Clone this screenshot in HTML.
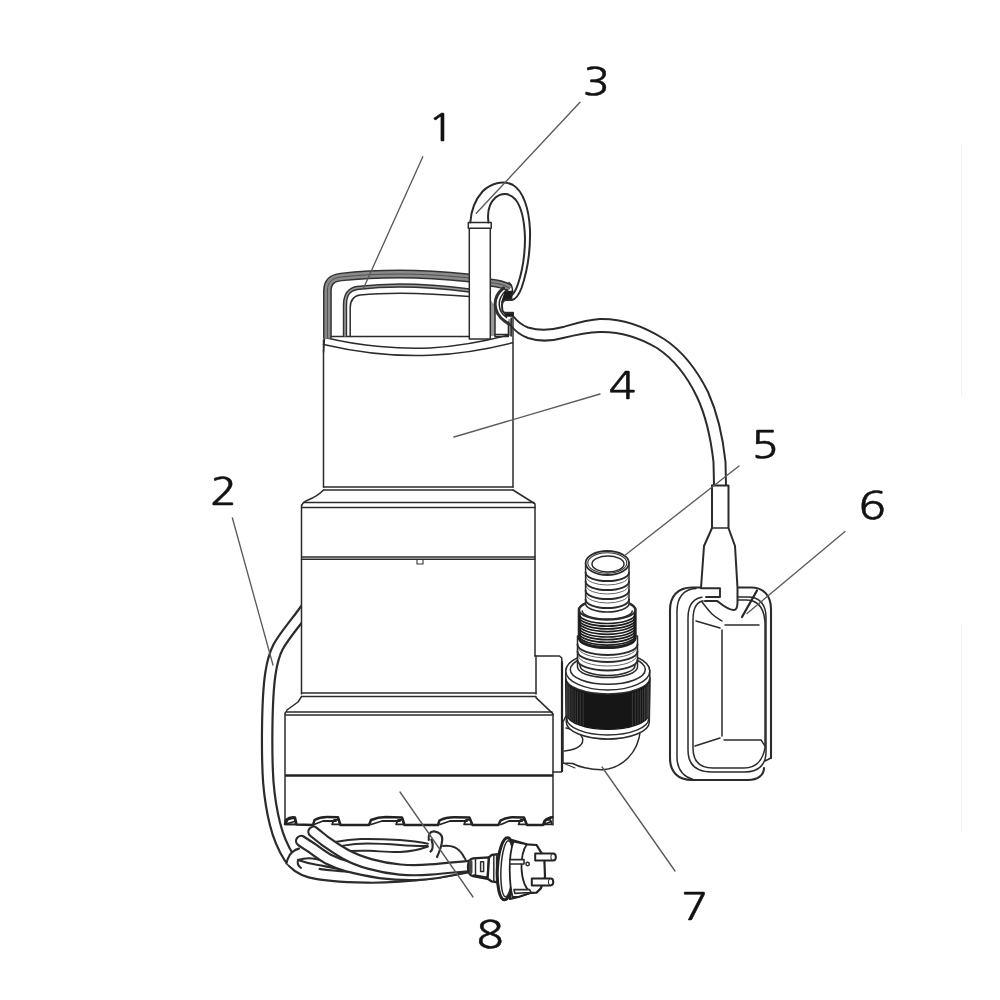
<!DOCTYPE html>
<html lang="en">
<head>
<meta charset="utf-8">
<title>Submersible pump diagram</title>
<style>
html,body{margin:0;padding:0;background:#fff;}
body{width:1000px;height:1000px;overflow:hidden;}
svg{display:block;}
.m{fill:none;stroke:#2b2b2b;stroke-width:1.5;stroke-linecap:round;stroke-linejoin:round;}
.c{fill:none;stroke:#2b2b2b;stroke-width:2;stroke-linecap:round;stroke-linejoin:round;}
.t{fill:none;stroke:#333;stroke-width:1.1;stroke-linecap:round;stroke-linejoin:round;}
.k{fill:none;stroke:#222;stroke-width:2.2;stroke-linecap:round;stroke-linejoin:round;}
.w{fill:#fff;stroke:#2b2b2b;stroke-width:1.5;stroke-linecap:round;stroke-linejoin:round;}
.wt{fill:#fff;stroke:#333;stroke-width:1.1;stroke-linecap:round;stroke-linejoin:round;}
.l{fill:none;stroke:#5a5a5a;stroke-width:1.35;stroke-linecap:round;}
.n{font-family:"NanumGothic","Liberation Sans",sans-serif;font-weight:400;font-size:37.3px;fill:#111;stroke:#111;stroke-width:0.45;}
</style>
</head>
<body>
<svg width="1000" height="1000" viewBox="0 0 1000 1000">
<rect width="1000" height="1000" fill="#fff"/>

<!-- faint page-edge marks -->
<g id="edge">
<line x1="961.5" y1="144" x2="961.5" y2="396" stroke="#f1f1f1" stroke-width="1"/>
<line x1="961.5" y1="624" x2="961.5" y2="832" stroke="#f1f1f1" stroke-width="1"/>
</g>

<!-- SECTION: power cable (behind body) -->
<g id="powercable">
<!-- upper coil lines (behind) -->
<path class="c" style="stroke-width:1.9" d="M335,842 C345,840 353,839.2 361,839 C375,838.8 388,839.3 400,840 C412,840.8 420,842 428,843.8"/>
<path class="c" style="stroke-width:1.9" d="M343,845.6 C352,844.2 360,843.6 367.5,843.5 C380,843.5 390,844.2 400,845 C412,846 420,846 427.5,846"/>
<path class="c" style="stroke-width:1.9" d="M349,851 C358,850.6 364,850.6 370,850.8 C382,851.4 392,852.3 400,852 C410,851.5 420,849.5 428,846.5"/>
<!-- S1: cable from body down the left side, around the bottom, to plug -->
<path d="M312,600 L302,613.8 C296,622 284,636 278,647 C274,655 272,663 270.5,673 C268.5,686 267.5,700 267.2,730 C267,750 267.3,768 268.3,782 C269.5,797 272,812 275,824 C278,836 283,848 289,857.5 C294,865 301,870 310,872.3 C322,875.5 345,877 367,877.5 C385,877.8 410,876 430,873.5 C445,871.5 458,869 471,866.5" fill="none" stroke="#2b2b2b" stroke-width="12.6" stroke-linecap="butt" stroke-linejoin="round"/>
<path d="M312,600 L302,613.8 C296,622 284,636 278,647 C274,655 272,663 270.5,673 C268.5,686 267.5,700 267.2,730 C267,750 267.3,768 268.3,782 C269.5,797 272,812 275,824 C278,836 283,848 289,857.5 C294,865 301,870 310,872.3 C322,875.5 345,877 367,877.5 C385,877.8 410,876 430,873.5 C445,871.5 458,869 471,866.5" fill="none" stroke="#fff" stroke-width="8.2" stroke-linecap="butt" stroke-linejoin="round"/>
<!-- C-shaped loop end covering inner edge -->
<path d="M299,848.6 C294.5,849.8 291.5,852.3 289.6,855.2 C287.6,858.5 286.7,861 286.5,863.5 L288.6,864.6 L291.5,866.6 L297,869.6 L305,871.8 L318,871.5 L320,864 L306,856 Z" fill="#fff" stroke="none"/>
<path class="c" style="stroke-width:2.2" d="M299,848.6 C294.5,849.8 291.5,852.3 289.6,855.2 C287.6,858.5 286.7,861 286.5,863.5"/>
<!-- wedge -->
<path class="c" style="stroke-width:2.2" d="M298,860 C304,858 310,857.8 316,859 C326,861.5 336,865 350,869.8"/>
<path class="c" style="stroke-width:2.2" d="M298,860 C305,862.5 312,864 318,865 C326,866.5 332,867.5 342,869.5"/>
<path class="c" d="M298,860 Q296.5,864.5 301,868"/>
<!-- S2 -->
<path d="M301.2,841 C305,843.5 309,846 312,848 C318,852.5 323,856 328,859 C334,862 341,864.8 348,866.5 C358,869.3 370,871.5 380,873 C392,874.6 404,875.3 416,875 C435,874.3 452,870.5 468,866.5" fill="none" stroke="#2b2b2b" stroke-width="12.4" stroke-linecap="round" stroke-linejoin="round"/>
<path d="M301.2,841 C305,843.5 309,846 312,848 C318,852.5 323,856 328,859 C334,862 341,864.8 348,866.5 C358,869.3 370,871.5 380,873 C392,874.6 404,875.3 416,875 C435,874.3 452,870.5 468,866.5" fill="none" stroke="#fff" stroke-width="8.0" stroke-linecap="round" stroke-linejoin="round"/>
<!-- S3 -->
<path d="M313.5,831.8 C318,835.5 322,838.5 325,841 C332,846 338,850 345,854 C353,858.5 361,861.5 370,864 C380,866.8 390,868.6 400,869.6 C410,870.4 420,870.3 430,869.5 C443,868.5 456,867.2 469,866" fill="none" stroke="#2b2b2b" stroke-width="12.4" stroke-linecap="round" stroke-linejoin="round"/>
<path d="M313.5,831.8 C318,835.5 322,838.5 325,841 C332,846 338,850 345,854 C353,858.5 361,861.5 370,864 C380,866.8 390,868.6 400,869.6 C410,870.4 420,870.3 430,869.5 C443,868.5 456,867.2 469,866" fill="none" stroke="#fff" stroke-width="8.0" stroke-linecap="round" stroke-linejoin="round"/>
</g>

<!-- SECTION: pump body -->
<g id="body">
<path d="M323.5,340 L323.5,490 L302,505 L301.5,696.6 L285,713 L285,824 L553,824 L553,714 L536,697.6 L535,504 L513,490 L513,316 L508,324 L508,337 Z" fill="#fff" stroke="none"/>
<!-- upper motor housing -->
<path class="m" d="M323.5,340 L323.5,487"/>
<path class="m" d="M513,316 L513,487"/>
<path class="m" d="M323.5,487 H513 M323.5,490 H513"/>
<path class="m" d="M323.5,490 Q318,496 308,500 Q303,502 302,505"/>
<path class="m" d="M513,490 L534.5,503.5"/>
<path class="m" d="M304,502.4 H534 M302,507.4 H535"/>
<!-- mid housing -->
<path class="m" d="M301.5,505 L301.5,694"/>
<path class="m" d="M535,504 L535,656 M536,656 L536,694"/>
<path class="m" d="M301.5,557 H535 M301.5,559.2 H535"/>
<path class="t" d="M417,560 V564 H423 V560"/>
<path class="m" d="M301.5,693 H536 M301.5,696.6 H536"/>
<path class="m" d="M301.5,696.6 L298,702 L287,710 L285.5,713"/>
<path class="m" d="M536,697.6 L552.8,713.6"/>
<path class="m" d="M287,712 H552 M285.5,715 H553"/>
<!-- base -->
<path class="m" d="M285,713 L285,824"/>
<path class="m" d="M553,714 L553,825"/>
<path class="k" style="stroke-width:2.4;stroke-linecap:butt" d="M285,775.5 H553"/>
<!-- base bottom with feet notches -->
<path class="k" style="stroke-width:2.5" d="M285,824 L286,820 Q290,816.5 295,817.5 L296.5,824.5 L313,825 L314.5,820 Q320,817 327,817 L338,817.2 L340.5,825 L369,825 L371,820 Q378,817 386,817 L402,817.5 L404.5,825 L438,825 L439.5,820.5 Q446,817.3 454,817.3 L469.5,817.6 L472.5,825 L498.5,825 L500.5,820.5 Q506,817.3 512,817.3 L524,817.5 L527,825 L543,825 L544.5,821 Q548,817.5 552.5,817.3"/>
<path class="k" style="stroke-width:1.8" d="M286,824 L296,821 M314,824.5 L323,821 L336,821 M371,824.5 L382,821 L400,821 M440,824.5 L450,821 L467,821 M501,824.5 L509,821 L522,821 M544,824.5 L551,821.5"/>
<!-- side outlet box -->
<path class="m" d="M535,656 H559.5 L561.8,658 V771.5"/>
<path class="k" style="stroke-width:2.2" d="M562,662 V771"/>
<path class="m" d="M553,772 H561.5"/>
<path class="m" d="M285,824.6 H297"/>
<!-- feet pockets -->
<path class="k" style="stroke-width:1.7" d="M332.0,824.3 L334.0,819.8 L338.3,819.8 L340.0,824.3 Z"/>
<path class="k" style="stroke-width:1.7" d="M396.0,824.3 L398.0,819.8 L402.3,819.8 L404.0,824.3 Z"/>
<path class="k" style="stroke-width:1.7" d="M464.0,824.3 L466.0,819.8 L470.3,819.8 L472.0,824.3 Z"/>
<path class="k" style="stroke-width:1.7" d="M518.5,824.3 L520.5,819.8 L524.8,819.8 L526.5,824.3 Z"/>
<path class="k" style="stroke-width:1.7" d="M544.0,824.3 L546.0,819.8 L550.3,819.8 L552.0,824.3 Z"/>
<path class="k" style="stroke-width:1.7" d="M286,824.3 L287.5,820 Q291,817.8 294.5,818.5 L296,824.3 Z"/>
</g>

<!-- SECTION: handle -->
<g id="handle">
<!-- top plate and rim -->
<path class="m" d="M330,336.5 H469 M495,336.5 H508.4"/>
<path class="m" d="M327,338 C360,346 400,349.5 430,348 C460,346.5 490,340 510,334.8"/>
<path class="m" d="M323.5,344.5 C360,353 400,356.5 430,355.3 C460,354 490,348.5 512.5,342.8"/>
<path class="m" d="M323.5,352 L324.5,338"/>
<!-- outer handle band -->
<path d="M327.4,338.5 V291 C327.4,282 332,278 341,277 C360,274.8 380,274 400,274 C425,274 450,276 469.5,278" fill="none" stroke="#333" stroke-width="8.8"/>
<path d="M327.4,338.5 V291 C327.4,282 332,278 341,277 C360,274.8 380,274 400,274 C425,274 450,276 469.5,278" fill="none" stroke="#8a8a8a" stroke-width="5.8"/>
<path d="M327.4,338.5 V291 C327.4,282 332,278 341,277 C360,274.8 380,274 400,274 C425,274 450,276 469.5,278" fill="none" stroke="#505050" stroke-width="1"/>
<path d="M490.3,282.6 C498,283.3 505,285 510,288.5" fill="none" stroke="#333" stroke-width="8.4"/>
<path d="M490.3,282.6 C498,283.3 505,285 510,288.5" fill="none" stroke="#8a8a8a" stroke-width="5.4"/>
<path d="M490.3,282.6 C498,283.3 505,285 510,288.5" fill="none" stroke="#505050" stroke-width="1"/>
<!-- inner handle band + line -->
<path d="M345,336.5 V305 C345,294 349,289.5 357,288 C375,286 390,285.5 400,285.5 C425,285.5 450,288 469.5,290.5" fill="none" stroke="#333" stroke-width="4.4"/>
<path d="M345,336.5 V305 C345,294 349,289.5 357,288 C375,286 390,285.5 400,285.5 C425,285.5 450,288 469.5,290.5" fill="none" stroke="#9a9a9a" stroke-width="1.6"/>
<path class="m" d="M350.2,336.5 V308 C350.2,300 353,296 360,295 C375,293.5 390,293.3 400,293.3 C425,293.5 450,295 469.5,296.5"/>
<!-- right leg / clamp -->
<path d="M490.6,300 L495,306 V336 H490.6 Z" fill="#9a9a9a" stroke="none"/>
<path d="M508.4,319 H511.2 V336 H508.4 Z" fill="#9a9a9a" stroke="none"/>
<path class="m" d="M495,305 V336 M508.4,322 V336 M511.2,318 V336"/>
<path class="m" d="M495,334.4 H508.4"/>
<!-- handle end hooking down -->
<path class="m" d="M509,282.5 Q512.5,285 512.6,292"/>
<!-- clamp S-curve -->
<path class="k" style="stroke-width:3;stroke:#303030" d="M503.5,288 C497.5,293 494.8,299 495.2,305 C495.6,312 499,317 504.5,321 L509.5,324.5"/>
<path class="m" style="stroke:#262626" d="M507,289.5 C502,294 499,299 499.2,304.5 C499.5,310 502,314.5 506.5,317.5"/>
<path d="M505,292 L512.4,291 L511.8,298.5 L506,299.5 L501.5,302.5 Z" fill="#1a1a1a" stroke="#1a1a1a" stroke-width="1" stroke-linejoin="round"/>
<path d="M503.6,312.3 H513.4 V316.2 H506 Z" fill="#1a1a1a" stroke="#1a1a1a" stroke-width="1" stroke-linejoin="round"/>
<path class="c" d="M511.8,300 L505,300 C502.5,301.5 501.8,303.5 502,305.5 L502.4,310.5 C502.8,312 503.8,312.8 505.2,313 L513,313"/>
</g>

<!-- SECTION: float cable + tube -->
<g id="floatcable">
<!-- vertical tube -->
<path class="w" d="M469.3,228 L469.3,339 L490.3,339 L490.3,228 Z"/>
<path class="w" d="M468.3,222.6 H491.2 V228.2 H468.3 Z"/>
<!-- cable loop: outer -->
<path class="c" d="M470.3,222.5 C471,211 475,200 482.5,191.5 C490.5,183.5 503,179.8 513,185 C523,191 529,208 530,230 C530.5,250 527,272 521.5,288 C518.5,296 515,299.5 511.8,300"/>
<!-- cable loop: inner -->
<path class="c" d="M488.5,222.5 C487,212 489.5,203 495.5,197.5 C501.5,192.3 509.5,192.6 515.5,199.5 C521.5,207 524.5,222 525,238 C525,256 522,272 518,284 C516,290 514,293 512,295"/>
<!-- cable to float: upper/outer edge -->
<path class="c" d="M513,316 C517,321 521,325 528,327.5 C540,331 552,330 563,327 C575,323.5 588,319.5 600,319 C622,318.5 645,327 664,339 C684,352 698,372 708,392 C717,412 723,438 725.5,462 L726,485"/>
<!-- cable to float: lower/inner edge -->
<path class="c" d="M511,326 C515,331 520,335 528,338 C540,342 552,341 563,338 C575,335 588,332.5 600,332 C620,331.5 640,338 657,348 C675,360 688,378 697,397 C706,416 711,440 713.5,462 L714,485"/>
</g>

<!-- SECTION: float -->
<g id="float">
<!-- float silhouette -->
<path class="m" style="stroke-width:2.1" d="M701,587.5 H692 C678,587.5 670,596 670,610 V758 C670,772 678,780 692,780 H748 C758,780 764,775 764,768"/>
<path class="m" style="stroke-width:2.1" d="M738,587.5 H751 C764,587.5 771,596 771,609 V758"/>
<path class="m" d="M771,758 L765,761"/>
<!-- side thickness line -->
<path class="m" d="M696,588.5 C684,589 677,597 677,611 V757 C677,769 682,776 693,779.5"/>
<!-- face outer rim -->
<path class="m" d="M720,597 H706 C694,597 688,604 688,618 V750 C688,765 696,772 712,772 H745 C758,772 766,765 766,752 V617 C766,604 759,597 748,597 H738"/>
<!-- face inner rim -->
<path class="m" d="M717,600.6 H705 C697,601 693,607 693,620 V748 C693,761 699,768 713,768 H744 C756,768 762.5,761 765,748 V622 C764,608 758,600 746,600 H738"/>
<!-- inner panel -->
<path class="m" d="M696,621 L720,628 M722,630 V736 M725,625 H759 M724,740 H761 M720,738 L695,746 M761,740 L765,746"/>
<path class="m" d="M702,602 C706,607 709,611 712,614 C715,617 719,619 722,621"/>
<!-- sleeve (drawn over float) -->
<path d="M712,485.5 H728.5 V528 L735,546 L737.5,588 V603 C737.3,608 736,610.2 733.5,610 C730,609.8 727,608 724,606 C721,604 719,602 717,601 L703,600.6 L701,588 L704,546 L712,528 Z" fill="#fff" stroke="none"/>
<path class="m" style="stroke-width:2" d="M712,485.5 V528 L704,546 L701,588"/>
<path class="m" style="stroke-width:2" d="M712,485.5 H728.5 V528 L735,546 L737.5,588 V603 C737.3,608 736,610.2 733.5,610 C730,609.8 727,608 724,606 C721,604 719,602 717,601 H705"/>
<path class="m" d="M712,528 H728.5"/>
<path class="m" style="stroke-width:1.9" d="M701,588.3 H720 V597 H706"/>
</g>

<!-- SECTION: outlet fitting -->
<g id="fitting">
<!-- elbow -->
<path class="w" d="M566,716 L563,722 L563,763 L572.8,763.5 C578,766.5 590,770 603,769.8 C612,769 621,765 628,758 C635,751 639.5,741 640.5,729 L641,712 Z"/>
<path class="m" d="M566,728 C573,729 580,732.5 582.5,738 C584,744 579,749.5 564.5,751"/>
<path class="t" d="M563,763 L575,768"/>
<path class="m" d="M568.5,722.5 C578,733 592,739 608,739 C622,738.8 634,735 640.5,729"/>
<!-- knurled nut -->
<path class="w" d="M566.3,722 A41.5,17 0 0 0 649.3,722 L649.8,678 L565.8,678 Z"/>
<path class="m"  d="M566.8,718.5 A41.0,16.5 0 0 0 648.8,718.5"/>
<path d="M565.8,678 A42,16 0 0 0 649.8,678 L649.3,714.5 A41.7,16.5 0 0 1 566.3,714.5 Z" fill="#161616" stroke="#161616" stroke-width="1.4" stroke-linejoin="round"/>
<line x1="566.6" y1="683.1" x2="566.6" y2="715.7" stroke="#5a5a5a" stroke-width="0.55"/>
<line x1="567.2" y1="684.1" x2="567.2" y2="716.8" stroke="#5a5a5a" stroke-width="0.55"/>
<line x1="568.2" y1="685.3" x2="568.2" y2="718.0" stroke="#5a5a5a" stroke-width="0.55"/>
<line x1="569.5" y1="686.5" x2="569.5" y2="719.2" stroke="#5a5a5a" stroke-width="0.55"/>
<line x1="571.1" y1="687.8" x2="571.1" y2="720.5" stroke="#5a5a5a" stroke-width="0.55"/>
<line x1="573.0" y1="688.9" x2="573.0" y2="721.7" stroke="#5a5a5a" stroke-width="0.55"/>
<line x1="575.2" y1="690.1" x2="575.2" y2="722.9" stroke="#5a5a5a" stroke-width="0.55"/>
<line x1="577.6" y1="691.1" x2="577.6" y2="724.0" stroke="#5a5a5a" stroke-width="0.55"/>
<line x1="580.3" y1="692.1" x2="580.3" y2="725.0" stroke="#5a5a5a" stroke-width="0.55"/>
<line x1="583.2" y1="693.0" x2="583.2" y2="725.9" stroke="#5a5a5a" stroke-width="0.55"/>
<line x1="632.4" y1="693.0" x2="632.4" y2="725.9" stroke="#5a5a5a" stroke-width="0.55"/>
<line x1="635.3" y1="692.1" x2="635.3" y2="725.0" stroke="#5a5a5a" stroke-width="0.55"/>
<line x1="638.0" y1="691.1" x2="638.0" y2="724.0" stroke="#5a5a5a" stroke-width="0.55"/>
<line x1="640.4" y1="690.1" x2="640.4" y2="722.9" stroke="#5a5a5a" stroke-width="0.55"/>
<line x1="642.6" y1="688.9" x2="642.6" y2="721.7" stroke="#5a5a5a" stroke-width="0.55"/>
<line x1="644.5" y1="687.8" x2="644.5" y2="720.5" stroke="#5a5a5a" stroke-width="0.55"/>
<line x1="646.1" y1="686.5" x2="646.1" y2="719.2" stroke="#5a5a5a" stroke-width="0.55"/>
<line x1="647.4" y1="685.3" x2="647.4" y2="718.0" stroke="#5a5a5a" stroke-width="0.55"/>
<line x1="648.4" y1="684.1" x2="648.4" y2="716.8" stroke="#5a5a5a" stroke-width="0.55"/>
<line x1="649.0" y1="683.1" x2="649.0" y2="715.7" stroke="#5a5a5a" stroke-width="0.55"/>
<path class="w" d="M565.8,678 L565.8,671 A42,19 0 0 1 649.8,671 L649.8,678 A42,16 0 0 1 565.8,678 Z"/>
<ellipse class="w" cx="607.8" cy="671" rx="42" ry="19"/>
<ellipse class="m" cx="607.8" cy="669.5" rx="37.5" ry="14.8"/>
<!-- lower barb -->
<path class="w" d="M577.5,636 L577.5,667 A30,10.5 0 0 0 637.5,667 L637.5,636 Z"/>
<path class="m" style="stroke-width:1.9" d="M577.5,644.5 A30.0,10.5 0 0 0 637.5,644.5"/>
<path class="m" style="stroke-width:1.9" d="M577.5,651.5 A30.0,10.5 0 0 0 637.5,651.5"/>
<path class="m" style="stroke-width:1.9" d="M577.5,660.0 A30.0,10.5 0 0 0 637.5,660.0"/>
<path class="t" style="stroke-width:0.9;stroke:#555" d="M578.5,648.0 A29.0,10.0 0 0 0 636.5,648.0"/>
<path class="t" style="stroke-width:0.9;stroke:#555" d="M578.5,656.0 A29.0,10.0 0 0 0 636.5,656.0"/>
<path class="m"  d="M580.0,665.5 A27.5,10.0 0 0 0 635.0,665.5"/>
<!-- threaded section -->
<path class="w" d="M579.2,610 L579.2,638 A28,9.5 0 0 0 635.2,638 L635.2,610 A28,10 0 0 0 579.2,610 Z" style="stroke-width:3"/>
<path class="m" style="stroke-width:1.7;stroke:#1d1d1d" d="M579.2,614.0 A28.0,9.5 0 0 0 635.2,614.0"/>
<path class="m" style="stroke-width:1.7;stroke:#1d1d1d" d="M579.2,616.7 A28.0,9.5 0 0 0 635.2,616.7"/>
<path class="m" style="stroke-width:1.7;stroke:#1d1d1d" d="M579.2,619.4 A28.0,9.5 0 0 0 635.2,619.4"/>
<path class="m" style="stroke-width:1.7;stroke:#1d1d1d" d="M579.2,622.1 A28.0,9.5 0 0 0 635.2,622.1"/>
<path class="m" style="stroke-width:1.7;stroke:#1d1d1d" d="M579.2,624.8 A28.0,9.5 0 0 0 635.2,624.8"/>
<path class="m" style="stroke-width:1.7;stroke:#1d1d1d" d="M579.2,627.5 A28.0,9.5 0 0 0 635.2,627.5"/>
<path class="m" style="stroke-width:1.7;stroke:#1d1d1d" d="M579.2,630.2 A28.0,9.5 0 0 0 635.2,630.2"/>
<path class="m" style="stroke-width:1.7;stroke:#1d1d1d" d="M579.2,632.9 A28.0,9.5 0 0 0 635.2,632.9"/>
<path class="m" style="stroke-width:1.7;stroke:#1d1d1d" d="M579.2,635.6 A28.0,9.5 0 0 0 635.2,635.6"/>
<path class="m" style="stroke-width:1.7;stroke:#1d1d1d" d="M579.2,638.3 A28.0,9.5 0 0 0 635.2,638.3"/>
<ellipse class="w" cx="607.1999999999999" cy="610" rx="28" ry="9.8" style="stroke-width:2"/>
<path class="m" d="M582.2,611 A25,8 0 0 0 632.2,611"/>
<!-- upper barb -->
<path class="w" d="M585.6,563 L585.6,603.5 A21.7,8.5 0 0 0 629,603.5 L629,563 Z"/>
<path class="m" style="stroke-width:1.9" d="M585.6,572.5 A21.7,8.5 0 0 0 629.0,572.5"/>
<path class="m" style="stroke-width:1.9" d="M585.6,581.5 A21.7,8.5 0 0 0 629.0,581.5"/>
<path class="m" style="stroke-width:1.9" d="M585.6,590.5 A21.7,8.5 0 0 0 629.0,590.5"/>
<path class="m" style="stroke-width:1.9" d="M585.6,599.5 A21.7,8.5 0 0 0 629.0,599.5"/>
<path class="t" style="stroke-width:0.9;stroke:#555" d="M586.3,577.0 A21.0,8.0 0 0 0 628.3,577.0"/>
<path class="t" style="stroke-width:0.9;stroke:#555" d="M586.3,586.0 A21.0,8.0 0 0 0 628.3,586.0"/>
<path class="t" style="stroke-width:0.9;stroke:#555" d="M586.3,595.0 A21.0,8.0 0 0 0 628.3,595.0"/>
<ellipse class="w" cx="607.3" cy="563" rx="21.7" ry="12" style="stroke-width:1.8"/>
<ellipse class="t" cx="607.3" cy="563" rx="19.5" ry="10.2"/>
<ellipse class="m" cx="608.0" cy="564" rx="16" ry="8"/>
</g>

<!-- SECTION: coil + plug -->
<g id="plug">
<!-- small loop near plug -->
<path class="c" style="stroke-width:2.2" d="M428.8,840 C428,835 430,831.2 434,831.4 C439,831.8 442.8,835 442.2,840 C441.8,845 440.2,850 437,857"/>
<path class="c" style="stroke-width:2.2" d="M431.5,839.5 C432.5,842 433,845 432.5,848 Q432,850.5 430.5,851.5"/>
<path class="c" d="M443,846 C447,845.5 451,845.8 454.5,847.2 C459,849.5 462,853 464,857 L465.5,859.5"/>
<!-- strain relief -->
<path class="w" d="M473,858.4 C469.5,859 468,862 468,867 C468,872 469.5,875.5 473,876.2 L487.6,878.8 L489,857.4 Z" style="stroke-width:2.3;stroke:#222"/>
<path d="M469,861 C471,859.5 472.5,860 472.5,862 L472.5,872 C472.5,874.5 470.5,874.5 469,873 Z" fill="#444"/>
<path class="m" d="M475.5,859 V876.5"/>
<path class="w" d="M480.6,861.8 H483.6 V871.6 H480.6 Z" style="stroke-width:1.5"/>
<path class="k" d="M474,875.5 L487,877.8" style="stroke-width:2.6"/>
<!-- collar -->
<path class="w" d="M489,857.4 L491.8,854.8 L500.5,854 V882.8 L491.8,881.4 L487.6,878.8 Z" style="stroke-width:2.3;stroke:#222"/>
<path class="m" d="M493.8,855 V881.5 M496.6,854.6 V882"/>
<!-- plug body -->
<path class="w" d="M512,840 L526.8,844.3 L536.6,845 L540,850.6 L544.3,857.6 L545,877 L540.8,888.4 L536.6,892.6 L531,892.8 L518.4,897 L510,899 Z" style="stroke-width:2.2;stroke:#222"/>
<!-- flange -->
<ellipse class="w" cx="506" cy="868.8" rx="8.6" ry="31" transform="rotate(3 506 868.8)" style="stroke-width:3;stroke:#222"/>
<ellipse class="m" cx="507" cy="868.8" rx="6" ry="28" transform="rotate(3 507 868.8)"/>
<path class="w" d="M513.5,841.5 C510.5,850 509.6,860 509.7,870 C509.8,880 510.5,889 512.5,897 L518.4,896.8 L531,892.6 C526,889 522,880 521.5,868 C521.3,858 523,850 526.8,844.3 Z" style="stroke-width:1.8;stroke:#222"/>
<!-- side clips -->
<path class="w" d="M509.8,859.6 H524 V864 H509.8 Z" style="stroke-width:1.6"/>
<path class="w" d="M514,889.6 H529.6 L531,892.5 L514.8,893.4 Z" style="stroke-width:1.6"/>
<circle class="m" cx="527.6" cy="864" r="1.7"/>
<!-- pins -->
<path class="w" d="M535.2,853.4 H553 C556.8,853.4 556.8,860.6 553,860.6 H535.2 Z" style="stroke-width:2;stroke:#222"/>
<path class="t" d="M552,853.8 C550.5,855.5 550.5,858.5 552,860"/>
<path class="w" d="M531.8,878.6 H550.5 C554.2,878.6 554.2,885.4 550.5,885.4 H531.8 Z" style="stroke-width:2;stroke:#222"/>
<path class="t" d="M549.5,879 C548,880.7 548,883.5 549.5,884.8"/>
</g>

<!-- SECTION: leaders -->
<g id="leaders">
<line class="l" x1="422.8" y1="156.8" x2="363.6" y2="288"/>
<line class="l" x1="232.4" y1="518" x2="273" y2="665"/>
<line class="l" x1="580" y1="102.3" x2="476.3" y2="213.2"/>
<line class="l" x1="600" y1="394" x2="454" y2="437"/>
<line class="l" x1="739" y1="466" x2="625" y2="555.3"/>
<line class="l" x1="845" y1="531.6" x2="747" y2="613.5"/>
<line class="l" x1="757" y1="590.5" x2="742" y2="617" style="stroke:#262626;stroke-width:2.2"/>
<line class="l" x1="602" y1="767" x2="675" y2="871"/>
<line class="l" x1="400" y1="792" x2="473" y2="897"/>
</g>

<!-- SECTION: labels -->
<g id="labels" class="n" opacity="0.995">
<text text-anchor="middle" transform="translate(441 141.2) scale(1.2 1)">1</text>
<text text-anchor="middle" transform="translate(223.5 505) scale(1.2 1)">2</text>
<text text-anchor="middle" transform="translate(596.2 95.4) scale(1.2 1)">3</text>
<text text-anchor="middle" transform="translate(622.3 399) scale(1.2 1)">4</text>
<text text-anchor="middle" transform="translate(764.7 458) scale(1.2 1)">5</text>
<text text-anchor="middle" transform="translate(872.3 519) scale(1.2 1)">6</text>
<text text-anchor="middle" transform="translate(694.5 920) scale(1.2 1)">7</text>
<text text-anchor="middle" transform="translate(490 948) scale(1.2 1)">8</text>
</g>
</svg>
</body>
</html>
